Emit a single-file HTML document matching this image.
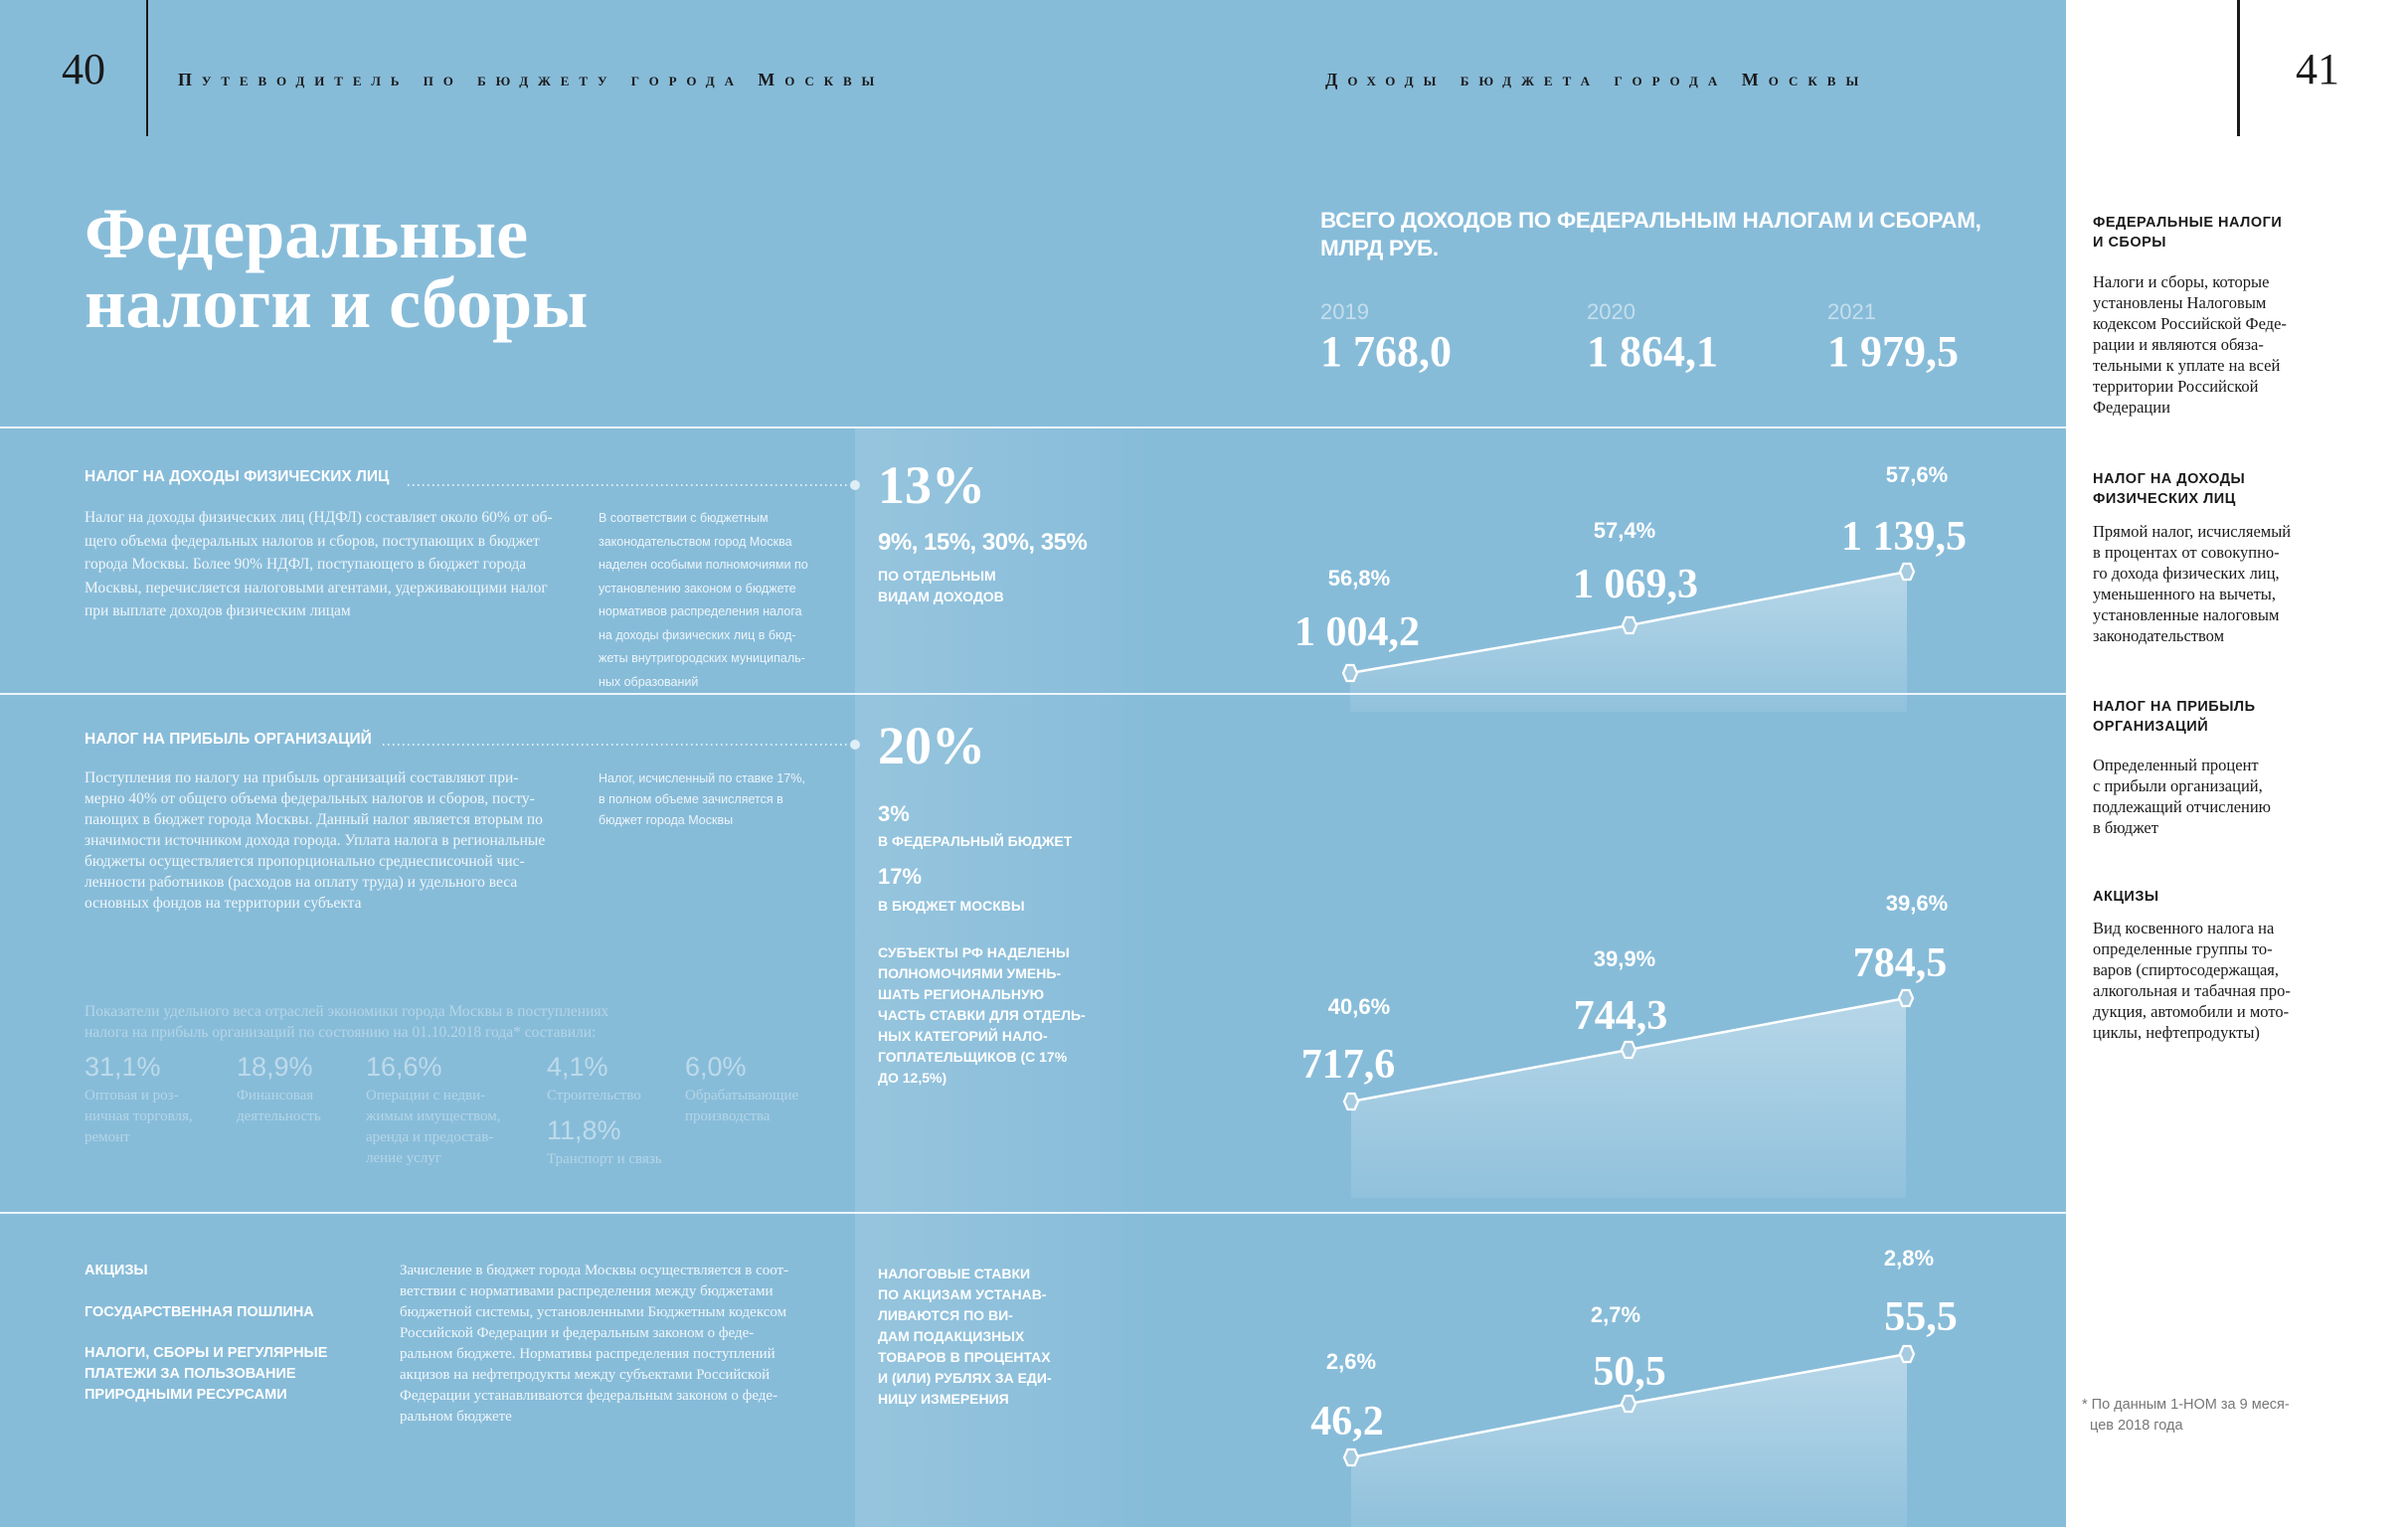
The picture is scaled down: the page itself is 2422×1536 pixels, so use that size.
<!DOCTYPE html>
<html><head><meta charset="utf-8"><style>
*{margin:0;padding:0}
body{width:2422px;height:1536px;position:relative;overflow:hidden;background:#87bcd9;font-family:"Liberation Sans",sans-serif;color:#fff}
.a{position:absolute;white-space:nowrap}
.serif{font-family:"Liberation Serif",serif}
.b{font-weight:bold}
.h{font-family:"Liberation Sans",sans-serif;font-weight:bold}
.p{font-family:"Liberation Serif",serif;color:rgba(255,255,255,0.88)}
.big{font-family:"Liberation Serif",serif;font-weight:bold;font-size:42px;line-height:42px}
.pct{font-family:"Liberation Sans",sans-serif;font-size:22px;line-height:23px;font-weight:bold}
.c{transform:translateX(-50%)}
.panel{position:absolute;left:2078px;top:0;width:344px;height:1536px;background:#fff;color:#1a1a1a}
.ph{position:absolute;left:27px;font-family:"Liberation Sans",sans-serif;font-weight:bold;font-size:14.5px;line-height:20px;letter-spacing:0.5px}
.pb{position:absolute;left:27px;font-family:"Liberation Serif",serif;font-size:16.5px;line-height:21px}
</style></head><body>
<div class="a" style="left:860px;top:430px;width:300px;height:1106px;background:linear-gradient(90deg,rgba(255,255,255,0.13),rgba(255,255,255,0))"></div>
<div class="a" style="left:147px;top:0;width:2px;height:137px;background:#1a1a1a"></div>
<div class="a serif" style="left:62px;top:48px;font-size:44px;line-height:44px;color:#1a1a1a">40</div>
<div class="a serif b" style="left:179px;top:71px;font-size:18px;line-height:18px;letter-spacing:9.9px;font-variant:small-caps;color:#1a1a1a">Путеводитель по бюджету города Москвы</div>
<div class="a serif b" style="left:1333px;top:71px;font-size:18px;line-height:18px;letter-spacing:10px;font-variant:small-caps;color:#1a1a1a">Доходы бюджета города Москвы</div>

<div class="a serif b" style="left:85px;top:200px;font-size:72px;line-height:70px">Федеральные<br>налоги и сборы</div>

<div class="a h" style="left:1328px;top:208px;font-size:22.5px;line-height:28px;letter-spacing:-0.3px">ВСЕГО ДОХОДОВ ПО ФЕДЕРАЛЬНЫМ НАЛОГАМ И СБОРАМ,<br>МЛРД РУБ.</div>
<div class="a" style="left:1328px;top:302px;font-size:22px;line-height:24px;color:rgba(255,255,255,0.5)">2019</div>
<div class="a" style="left:1596px;top:302px;font-size:22px;line-height:24px;color:rgba(255,255,255,0.5)">2020</div>
<div class="a" style="left:1838px;top:302px;font-size:22px;line-height:24px;color:rgba(255,255,255,0.5)">2021</div>
<div class="a big" style="left:1328px;top:333px;font-size:44px">1 768,0</div>
<div class="a big" style="left:1596px;top:333px;font-size:44px">1 864,1</div>
<div class="a big" style="left:1838px;top:333px;font-size:44px">1 979,5</div>

<div class="a" style="left:0;top:429px;width:2078px;height:2px;background:rgba(255,255,255,0.85)"></div>
<div class="a" style="left:0;top:697px;width:2078px;height:2px;background:rgba(255,255,255,0.85)"></div>
<div class="a" style="left:0;top:1219px;width:2078px;height:2px;background:rgba(255,255,255,0.85)"></div>

<svg class="a" style="left:0;top:0" width="2078" height="1536">
<defs><linearGradient id="g" x1="0" y1="0" x2="0" y2="1"><stop offset="0" stop-color="#fff" stop-opacity="0.4"/><stop offset="1" stop-color="#fff" stop-opacity="0.08"/></linearGradient></defs>
<line x1="410" y1="488" x2="855" y2="488" stroke="#fff" stroke-width="1.5" stroke-dasharray="1.5 3.5"/>
<circle cx="860" cy="488" r="5" fill="#dfeef6"/>
<line x1="385" y1="749" x2="855" y2="749" stroke="#fff" stroke-width="1.5" stroke-dasharray="1.5 3.5"/>
<circle cx="860" cy="749" r="5" fill="#dfeef6"/>
<polygon points="1358,677 1639,629 1918,575 1918,716 1358,716" fill="url(#g)"/>
<polyline points="1358,677 1639,629 1918,575" fill="none" stroke="#fff" stroke-width="2.5"/>
<polygon points="1359,1108 1638,1056 1917,1004 1917,1205 1359,1205" fill="url(#g)"/>
<polyline points="1359,1108 1638,1056 1917,1004" fill="none" stroke="#fff" stroke-width="2.5"/>
<polygon points="1359,1466 1638,1412 1918,1362 1918,1536 1359,1536" fill="url(#g)"/>
<polyline points="1359,1466 1638,1412 1918,1362" fill="none" stroke="#fff" stroke-width="2.5"/>
<g fill="#a6cbe0" stroke="#fff" stroke-width="2.2">
<polygon transform="translate(1358,677)" points="-7,0 -3.5,-8 3.5,-8 7,0 3.5,8 -3.5,8"/>
<polygon transform="translate(1639,629)" points="-7,0 -3.5,-8 3.5,-8 7,0 3.5,8 -3.5,8"/>
<polygon transform="translate(1918,575)" points="-7,0 -3.5,-8 3.5,-8 7,0 3.5,8 -3.5,8"/>
<polygon transform="translate(1359,1108)" points="-7,0 -3.5,-8 3.5,-8 7,0 3.5,8 -3.5,8"/>
<polygon transform="translate(1638,1056)" points="-7,0 -3.5,-8 3.5,-8 7,0 3.5,8 -3.5,8"/>
<polygon transform="translate(1917,1004)" points="-7,0 -3.5,-8 3.5,-8 7,0 3.5,8 -3.5,8"/>
<polygon transform="translate(1359,1466)" points="-7,0 -3.5,-8 3.5,-8 7,0 3.5,8 -3.5,8"/>
<polygon transform="translate(1638,1412)" points="-7,0 -3.5,-8 3.5,-8 7,0 3.5,8 -3.5,8"/>
<polygon transform="translate(1918,1362)" points="-7,0 -3.5,-8 3.5,-8 7,0 3.5,8 -3.5,8"/>
</g>
</svg>

<!-- Section 1 -->
<div class="a h" style="left:85px;top:471px;font-size:15.5px;line-height:18px">НАЛОГ НА ДОХОДЫ ФИЗИЧЕСКИХ ЛИЦ</div>
<div class="a p" style="left:85px;top:509px;font-size:15.5px;line-height:23.5px">Налог на доходы физических лиц (НДФЛ) составляет около 60% от об-<br>щего объема федеральных налогов и сборов, поступающих в бюджет<br>города Москвы. Более 90% НДФЛ, поступающего в бюджет города<br>Москвы, перечисляется налоговыми агентами, удерживающими налог<br>при выплате доходов физическим лицам</div>
<div class="a" style="left:602px;top:510px;font-size:12.5px;line-height:23.5px;color:rgba(255,255,255,0.85)">В соответствии с бюджетным<br>законодательством город Москва<br>наделен особыми полномочиями по<br>установлению законом о бюджете<br>нормативов распределения налога<br>на доходы физических лиц в бюд-<br>жеты внутригородских муниципаль-<br>ных образований</div>
<div class="a serif b" style="left:883px;top:460px;font-size:54px;line-height:56px">13%</div>
<div class="a h" style="left:883px;top:532px;font-size:24px;line-height:28px;letter-spacing:-0.5px">9%, 15%, 30%, 35%</div>
<div class="a h" style="left:883px;top:569px;font-size:14px;line-height:21px">ПО ОТДЕЛЬНЫМ<br>ВИДАМ ДОХОДОВ</div>
<div class="a pct c" style="left:1367px;top:570px">56,8%</div>
<div class="a big c" style="left:1365px;top:615px">1 004,2</div>
<div class="a pct c" style="left:1634px;top:522px">57,4%</div>
<div class="a big c" style="left:1645px;top:567px">1 069,3</div>
<div class="a pct c" style="left:1928px;top:466px">57,6%</div>
<div class="a big c" style="left:1915px;top:519px">1 139,5</div>

<!-- Section 2 -->
<div class="a h" style="left:85px;top:735px;font-size:15.5px;line-height:18px">НАЛОГ НА ПРИБЫЛЬ ОРГАНИЗАЦИЙ</div>
<div class="a p" style="left:85px;top:772px;font-size:15.5px;line-height:21px">Поступления по налогу на прибыль организаций составляют при-<br>мерно 40% от общего объема федеральных налогов и сборов, посту-<br>пающих в бюджет города Москвы. Данный налог является вторым по<br>значимости источником дохода города. Уплата налога в региональные<br>бюджеты осуществляется пропорционально среднесписочной чис-<br>ленности работников (расходов на оплату труда) и удельного веса<br>основных фондов на территории субъекта</div>
<div class="a" style="left:602px;top:773px;font-size:12.5px;line-height:21px;color:rgba(255,255,255,0.85)">Налог, исчисленный по ставке 17%,<br>в полном объеме зачисляется в<br>бюджет города Москвы</div>
<div class="a serif b" style="left:883px;top:722px;font-size:54px;line-height:56px">20%</div>
<div class="a h" style="left:883px;top:807px;font-size:22px;line-height:24px">3%</div>
<div class="a h" style="left:883px;top:838px;font-size:14px;line-height:16px">В ФЕДЕРАЛЬНЫЙ БЮДЖЕТ</div>
<div class="a h" style="left:883px;top:870px;font-size:22px;line-height:24px">17%</div>
<div class="a h" style="left:883px;top:903px;font-size:14px;line-height:16px">В БЮДЖЕТ МОСКВЫ</div>
<div class="a h" style="left:883px;top:948px;font-size:14px;line-height:21px">СУБЪЕКТЫ РФ НАДЕЛЕНЫ<br>ПОЛНОМОЧИЯМИ УМЕНЬ-<br>ШАТЬ РЕГИОНАЛЬНУЮ<br>ЧАСТЬ СТАВКИ ДЛЯ ОТДЕЛЬ-<br>НЫХ КАТЕГОРИЙ НАЛО-<br>ГОПЛАТЕЛЬЩИКОВ (С 17%<br>ДО 12,5%)</div>

<div class="a p" style="left:85px;top:1007px;font-size:15.5px;line-height:21px;color:rgba(255,255,255,0.38)">Показатели удельного веса отраслей экономики города Москвы в поступлениях<br>налога на прибыль организаций по состоянию на 01.10.2018 года* составили:</div>
<div class="a" style="left:85px;top:1059px;font-size:27px;line-height:28px;color:rgba(255,255,255,0.45)">31,1%</div>
<div class="a" style="left:238px;top:1059px;font-size:27px;line-height:28px;color:rgba(255,255,255,0.45)">18,9%</div>
<div class="a" style="left:368px;top:1059px;font-size:27px;line-height:28px;color:rgba(255,255,255,0.45)">16,6%</div>
<div class="a" style="left:550px;top:1059px;font-size:27px;line-height:28px;color:rgba(255,255,255,0.45)">4,1%</div>
<div class="a" style="left:689px;top:1059px;font-size:27px;line-height:28px;color:rgba(255,255,255,0.45)">6,0%</div>
<div class="a" style="left:550px;top:1123px;font-size:27px;line-height:28px;color:rgba(255,255,255,0.45)">11,8%</div>
<div class="a p" style="left:85px;top:1092px;font-size:15px;line-height:21px;color:rgba(255,255,255,0.38)">Оптовая и роз-<br>ничная торговля,<br>ремонт</div>
<div class="a p" style="left:238px;top:1092px;font-size:15px;line-height:21px;color:rgba(255,255,255,0.38)">Финансовая<br>деятельность</div>
<div class="a p" style="left:368px;top:1092px;font-size:15px;line-height:21px;color:rgba(255,255,255,0.38)">Операции с недви-<br>жимым имуществом,<br>аренда и предостав-<br>ление услуг</div>
<div class="a p" style="left:550px;top:1092px;font-size:15px;line-height:21px;color:rgba(255,255,255,0.38)">Строительство</div>
<div class="a p" style="left:689px;top:1092px;font-size:15px;line-height:21px;color:rgba(255,255,255,0.38)">Обрабатывающие<br>производства</div>
<div class="a p" style="left:550px;top:1156px;font-size:15px;line-height:21px;color:rgba(255,255,255,0.38)">Транспорт и связь</div>

<div class="a pct c" style="left:1367px;top:1001px">40,6%</div>
<div class="a big c" style="left:1356px;top:1050px">717,6</div>
<div class="a pct c" style="left:1634px;top:953px">39,9%</div>
<div class="a big c" style="left:1630px;top:1001px">744,3</div>
<div class="a pct c" style="left:1928px;top:897px">39,6%</div>
<div class="a big c" style="left:1911px;top:948px">784,5</div>

<!-- Section 3 -->
<div class="a h" style="left:85px;top:1270px;font-size:14.5px;line-height:17px">АКЦИЗЫ</div>
<div class="a h" style="left:85px;top:1312px;font-size:14.5px;line-height:17px">ГОСУДАРСТВЕННАЯ ПОШЛИНА</div>
<div class="a h" style="left:85px;top:1351px;font-size:14.5px;line-height:21px">НАЛОГИ, СБОРЫ И РЕГУЛЯРНЫЕ<br>ПЛАТЕЖИ ЗА ПОЛЬЗОВАНИЕ<br>ПРИРОДНЫМИ РЕСУРСАМИ</div>
<div class="a p" style="left:402px;top:1268px;font-size:15px;line-height:21px">Зачисление в бюджет города Москвы осуществляется в соот-<br>ветствии с нормативами распределения между бюджетами<br>бюджетной системы, установленными Бюджетным кодексом<br>Российской Федерации и федеральным законом о феде-<br>ральном бюджете. Нормативы распределения поступлений<br>акцизов на нефтепродукты между субъектами Российской<br>Федерации устанавливаются федеральным законом о феде-<br>ральном бюджете</div>
<div class="a h" style="left:883px;top:1271px;font-size:14px;line-height:21px">НАЛОГОВЫЕ СТАВКИ<br>ПО АКЦИЗАМ УСТАНАВ-<br>ЛИВАЮТСЯ ПО ВИ-<br>ДАМ ПОДАКЦИЗНЫХ<br>ТОВАРОВ В ПРОЦЕНТАХ<br>И (ИЛИ) РУБЛЯХ ЗА ЕДИ-<br>НИЦУ ИЗМЕРЕНИЯ</div>
<div class="a pct c" style="left:1359px;top:1358px">2,6%</div>
<div class="a big c" style="left:1355px;top:1409px">46,2</div>
<div class="a pct c" style="left:1625px;top:1311px">2,7%</div>
<div class="a big c" style="left:1639px;top:1359px">50,5</div>
<div class="a pct c" style="left:1920px;top:1254px">2,8%</div>
<div class="a big c" style="left:1932px;top:1304px">55,5</div>

<!-- Right panel -->
<div class="panel">
<div style="position:absolute;left:172px;top:0;width:3px;height:137px;background:#1a1a1a"></div>
<div style="position:absolute;left:231px;top:48px;font-family:'Liberation Serif',serif;font-size:44px;line-height:44px">41</div>
<div class="ph" style="top:214px">ФЕДЕРАЛЬНЫЕ НАЛОГИ<br>И СБОРЫ</div>
<div class="pb" style="top:273px">Налоги и сборы, которые<br>установлены Налоговым<br>кодексом Российской Феде-<br>рации и являются обяза-<br>тельными к уплате на всей<br>территории Российской<br>Федерации</div>
<div class="ph" style="top:472px">НАЛОГ НА ДОХОДЫ<br>ФИЗИЧЕСКИХ ЛИЦ</div>
<div class="pb" style="top:524px">Прямой налог, исчисляемый<br>в процентах от совокупно-<br>го дохода физических лиц,<br>уменьшенного на вычеты,<br>установленные налоговым<br>законодательством</div>
<div class="ph" style="top:701px">НАЛОГ НА ПРИБЫЛЬ<br>ОРГАНИЗАЦИЙ</div>
<div class="pb" style="top:759px">Определенный процент<br>с прибыли организаций,<br>подлежащий отчислению<br>в бюджет</div>
<div class="ph" style="top:892px">АКЦИЗЫ</div>
<div class="pb" style="top:923px">Вид косвенного налога на<br>определенные группы то-<br>варов (спиртосодержащая,<br>алкогольная и табачная про-<br>дукция, автомобили и мото-<br>циклы, нефтепродукты)</div>
<div style="position:absolute;left:16px;top:1403px;font-family:'Liberation Sans',sans-serif;font-size:14.5px;line-height:21px;color:#777">* По данным 1-НОМ за 9 меся-<br>&nbsp;&nbsp;цев 2018 года</div>
</div>
</body></html>
